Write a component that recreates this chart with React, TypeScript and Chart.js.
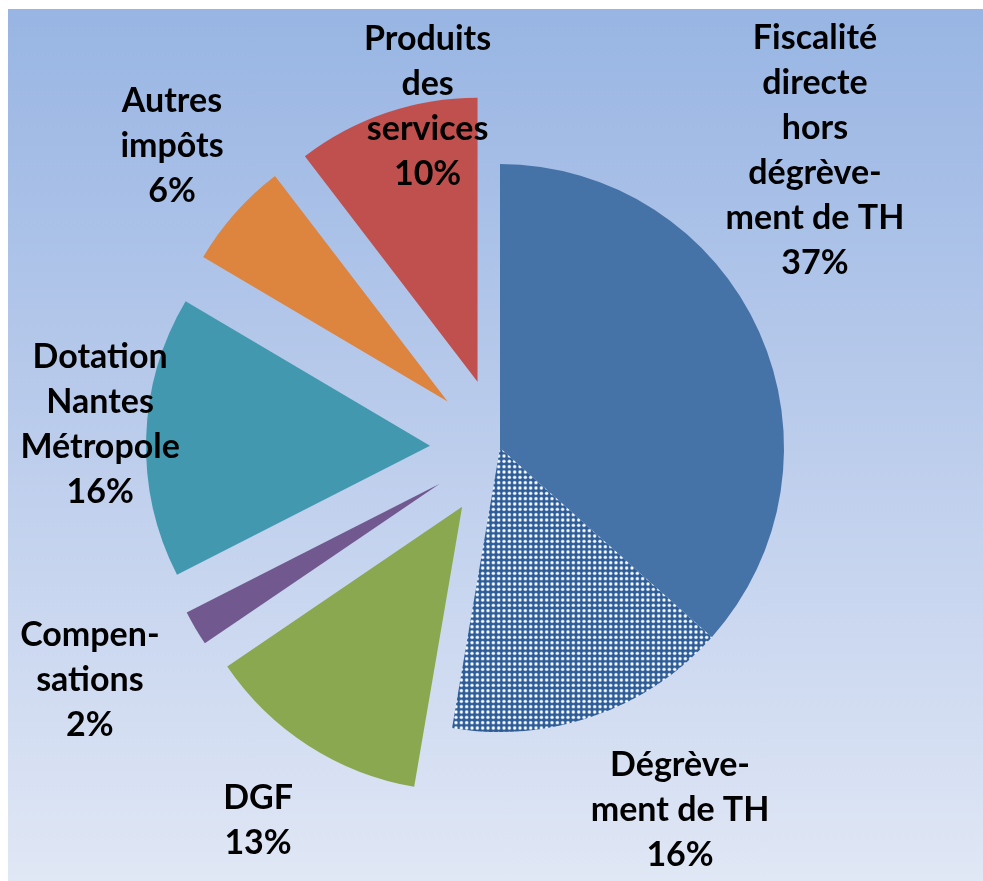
import React, { useEffect, useRef } from "react";
import { Chart, registerables } from "chart.js";

Chart.register(...registerables);

const categories: string[][] = [
  ["Fiscalité", "directe", "hors", "dégrève-", "ment de TH"],
  ["Dégrève-", "ment de TH"],
  ["DGF"],
  ["Compen-", "sations"],
  ["Dotation", "Nantes", "Métropole"],
  ["Autres", "impôts"],
  ["Produits", "des", "services"],
];
const values: number[] = [36.6, 16.1, 12.8, 2.0, 16.0, 6.1, 10.4];
const colors: string[] = ["#4673a7", "PATTERN", "#8aa84f", "#71598f", "#4299af", "#dd843f", "#c0504d"];
// explosion distance of each slice, in pixels
const explode: number[] = [0, 0, 70, 70, 70, 70, 70];
// label block centres, as fractions of the pie radius relative to the pie centre
const labelPosX: number[] = [1.109, 0.634, -0.852, -1.444, -1.408, -1.155, -0.255];
const labelPosY: number[] = [-1.048, 1.275, 1.313, 0.817, -0.081, -1.063, -1.202];

function makePattern(): CanvasPattern | string {
  const c = document.createElement("canvas");
  c.width = 16;
  c.height = 16;
  const ctx = c.getContext("2d");
  if (!ctx) return "#2f5e97";
  ctx.fillStyle = "#2f5e97";
  ctx.fillRect(0, 0, 16, 16);
  const step = 16 / 3;
  for (let i = 0; i < 3; i++) {
    for (let j = 0; j < 3; j++) {
      const cx = step * i + step / 2;
      const cy = step * j + step / 2;
      ctx.fillStyle = "rgba(200,215,240,0.75)";
      ctx.beginPath();
      ctx.arc(cx, cy, 1.9, 0, Math.PI * 2);
      ctx.fill();
      ctx.fillStyle = "#ffffff";
      ctx.beginPath();
      ctx.arc(cx, cy, 1.2, 0, Math.PI * 2);
      ctx.fill();
    }
  }
  return ctx.createPattern(c, "repeat") || "#2f5e97";
}

const explodePlugin = {
  id: "explodeSlices",
  beforeDatasetDraw(chart: any, args: any) {
    const meta = args.meta;
    const ctx = chart.ctx;
    meta.data.forEach((arc: any, i: number) => {
      const { startAngle, endAngle } = arc.getProps(["startAngle", "endAngle"], true);
      const mid = (startAngle + endAngle) / 2;
      const d = explode[i] || 0;
      ctx.save();
      ctx.translate(Math.cos(mid) * d, Math.sin(mid) * d);
      arc.draw(ctx, chart.chartArea);
      ctx.restore();
    });
    return false;
  },
};

const labelPlugin = {
  id: "sliceLabels",
  afterDatasetsDraw(chart: any) {
    const meta = chart.getDatasetMeta(0);
    const ctx = chart.ctx;
    const total = values.reduce((a, b) => a + b, 0);
    ctx.save();
    ctx.fillStyle = "#000";
    ctx.font = "bold 34px Lato";
    ctx.textAlign = "center";
    ctx.textBaseline = "middle";
    const lineH = 45;
    meta.data.forEach((arc: any, i: number) => {
      const { x, y, outerRadius } = arc.getProps(["x", "y", "outerRadius"], true);
      const lines = [...categories[i], Math.round((values[i] / total) * 100) + "%"];
      const cx = x + labelPosX[i] * outerRadius;
      const cy = y + labelPosY[i] * outerRadius;
      const startY = cy - ((lines.length - 1) * lineH) / 2;
      lines.forEach((t, k) => ctx.fillText(t, cx, startY + k * lineH));
    });
    ctx.restore();
  },
};

export default function App() {
  const ref = useRef<HTMLCanvasElement>(null);
  useEffect(() => {
    if (!ref.current) return;
    const pattern = makePattern();
    const chart = new Chart(ref.current, {
      type: "pie",
      data: {
        labels: categories.map((c) => c.join(" ")),
        datasets: [
          {
            data: values,
            backgroundColor: colors.map((c) => (c === "PATTERN" ? pattern : c)) as any,
            borderWidth: 0,
            offset: 0,
          },
        ],
      },
      options: {
        animation: false,
        responsive: false,
        maintainAspectRatio: false,
        layout: { padding: { left: 216, right: 199, top: 164, bottom: 149 } },
        plugins: { legend: { display: false }, tooltip: { enabled: false } },
      },
      plugins: [explodePlugin, labelPlugin],
    });
    return () => chart.destroy();
  }, []);
  return (
    <div style={{ position: "absolute", left: 0, top: 0, width: 983, height: 881, background: "#fff", overflow: "hidden" }}>
      <div
        style={{
          position: "absolute",
          left: 8,
          top: 9,
          right: 0,
          bottom: 0,
          background: "linear-gradient(to bottom, #98b5e3 0%, #bccdec 50%, #e0e7f5 100%)",
        }}
      />
      <canvas ref={ref} width={983} height={881} style={{ position: "absolute", left: 0, top: 0 }} />
    </div>
  );
}
